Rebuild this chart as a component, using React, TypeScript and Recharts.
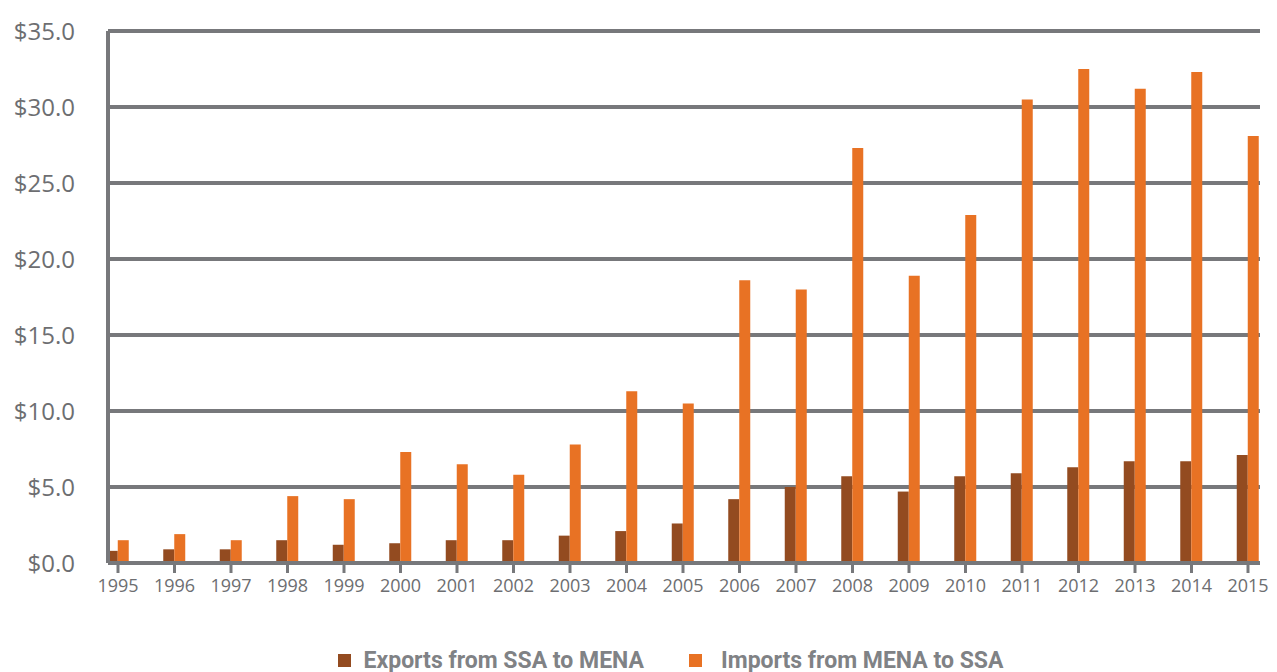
import { BarChart, Bar, XAxis, YAxis, CartesianGrid, Legend } from 'recharts'

const years = [1995, 1996, 1997, 1998, 1999, 2000, 2001, 2002, 2003, 2004, 2005, 2006, 2007, 2008, 2009, 2010, 2011, 2012, 2013, 2014, 2015]

// US$ billions
const exportsSsaToMena = [0.8, 0.9, 0.9, 1.5, 1.2, 1.3, 1.5, 1.5, 1.8, 2.1, 2.6, 4.2, 5.0, 5.7, 4.7, 5.7, 5.9, 6.3, 6.7, 6.7, 7.1]
const importsMenaToSsa = [1.5, 1.9, 1.5, 4.4, 4.2, 7.3, 6.5, 5.8, 7.8, 11.3, 10.5, 18.6, 18.0, 27.3, 18.9, 22.9, 30.5, 32.5, 31.2, 32.3, 28.1]

const yTicks = [0, 5, 10, 15, 20, 25, 30, 35]

const seriesNames = ['Exports from SSA to MENA', 'Imports from MENA to SSA']
const seriesColors = ['#934b20', '#e87224']

const GRID = '#77787b'
const TEXT = '#6d6e71'

const chartData = years.map((year, i) => ({
  year,
  exports: exportsSsaToMena[i],
  imports: importsMenaToSsa[i],
}))

const renderLegend = () => (
  <div
    style={{
      display: 'flex',
      justifyContent: 'center',
      alignItems: 'center',
      height: 24,
      paddingLeft: 81,
      fontFamily: 'Roboto, sans-serif',
    }}
  >
    {seriesNames.map((name, i) => (
      <div key={name} style={{ display: 'flex', alignItems: 'center', marginRight: i === 0 ? 45 : 0 }}>
        <span style={{ display: 'inline-block', width: 13, height: 13, background: seriesColors[i], marginRight: i === 0 ? 13 : 19 }} />
        <span style={{ fontSize: 23, fontWeight: 700, color: '#808285' }}>{name}</span>
      </div>
    ))}
  </div>
)

export default function App() {
  return (
    <div style={{ position: 'absolute', left: 0, top: 0, fontFamily: '"Open Sans", sans-serif' }}>
      <BarChart
        width={1277}
        height={672}
        data={chartData}
        margin={{ top: 31, right: 17, left: 0, bottom: 0 }}
        barGap={0}
      >
        <CartesianGrid vertical={false} stroke={GRID} strokeWidth={4} />
        <XAxis
          dataKey="year"
          type="number"
          domain={[1995, 2015]}
          ticks={years}
          interval={0}
          padding={{ left: 10, right: 12 }}
          height={85}
          tickSize={10}
          tickMargin={6}
          axisLine={{ stroke: GRID, strokeWidth: 4 }}
          tickLine={{ stroke: GRID, strokeWidth: 3 }}
          tick={{ fill: TEXT, fontSize: 18 }}
        />
        <YAxis
          domain={[0, 35]}
          ticks={yTicks}
          width={108}
          tickLine={false}
          tickSize={0}
          tickMargin={33}
          axisLine={{ stroke: GRID, strokeWidth: 4 }}
          tick={{ fill: TEXT, fontSize: 24 }}
          tickFormatter={(v: number) => `$${v.toFixed(1)}`}
        />
        <Legend verticalAlign="bottom" content={renderLegend} />
        <Bar dataKey="exports" name={seriesNames[0]} fill={seriesColors[0]} barSize={11} isAnimationActive={false} />
        <Bar dataKey="imports" name={seriesNames[1]} fill={seriesColors[1]} barSize={11} isAnimationActive={false} />
      </BarChart>
    </div>
  )
}
